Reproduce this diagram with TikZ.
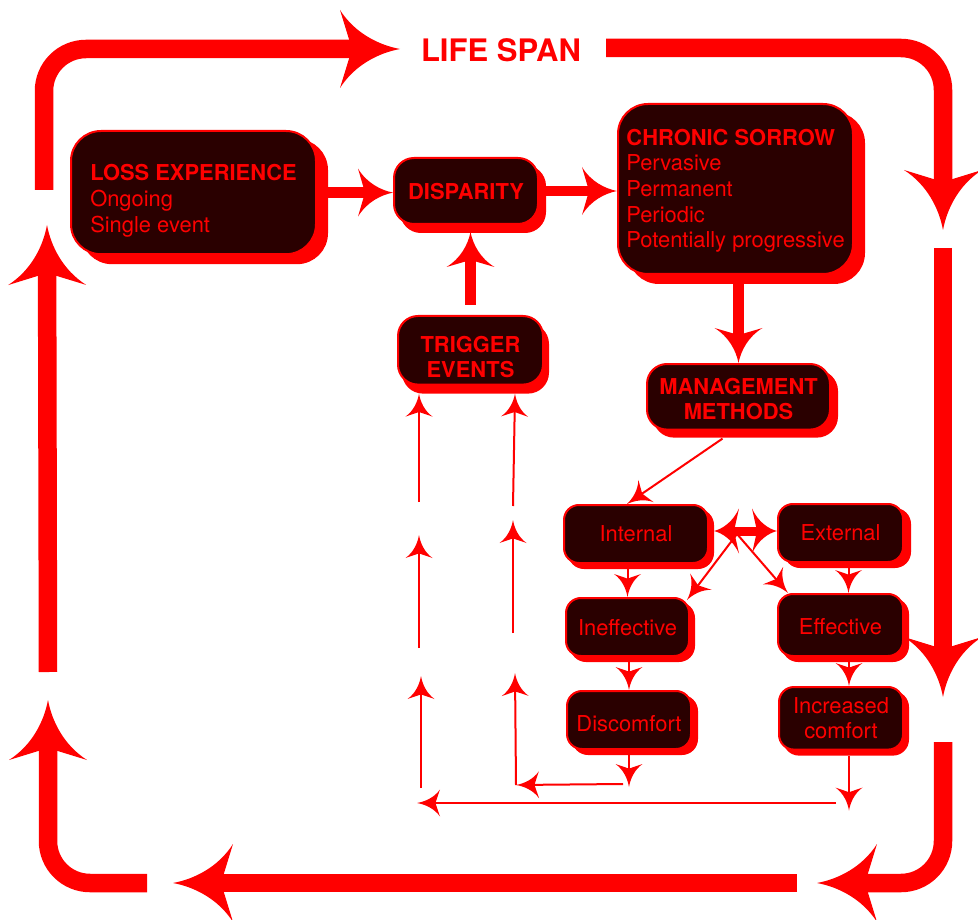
\documentclass[tikz,border=0pt]{standalone}
\usepackage{fontspec}
\setmainfont{TeX Gyre Heros}
\usetikzlibrary{arrows.meta,calc,shadows}
\definecolor{boxfill}{RGB}{42,0,0}
\pgfdeclarearrow{
  name = Swoop,
  parameters = {\the\pgfarrowlength,\the\pgfarrowwidth},
  setup code = {
    \pgfarrowssettipend{0pt}
    \pgfarrowssetbackend{-\pgfarrowlength}
    \pgfarrowssetlineend{-.6\pgfarrowlength}
    \pgfarrowssavethe\pgfarrowlength
    \pgfarrowssavethe\pgfarrowwidth
  },
  drawing code = {
    \pgfpathmoveto{\pgfpointorigin}
    \pgfpathcurveto{\pgfpoint{-.35\pgfarrowlength}{.05\pgfarrowwidth}}{\pgfpoint{-.75\pgfarrowlength}{.2\pgfarrowwidth}}{\pgfpoint{-\pgfarrowlength}{.5\pgfarrowwidth}}
    \pgfpathlineto{\pgfpoint{-.8\pgfarrowlength}{0pt}}
    \pgfpathlineto{\pgfpoint{-\pgfarrowlength}{-.5\pgfarrowwidth}}
    \pgfpathcurveto{\pgfpoint{-.75\pgfarrowlength}{-.2\pgfarrowwidth}}{\pgfpoint{-.35\pgfarrowlength}{-.05\pgfarrowwidth}}{\pgfpointorigin}
    \pgfpathclose
    \pgfusepathqfill
  },
  defaults = {length=10pt, width=10pt}
}
\begin{document}
\begin{tikzpicture}[x=1pt,y=-1pt,
  nbox/.style={draw=red, line width=2pt, fill=boxfill, text=red, inner sep=0pt, anchor=north west,
    font=\fontsize{21.9}{25.6}\selectfont},
  shad/.style 2 args={general shadow={fill=red, draw=red, line width=2pt, shadow xshift=#1pt, shadow yshift=-#2pt}},
  bigloop/.style={draw=red, line width=18.5pt, rounded corners=42pt, -{Swoop[length=60pt,width=78pt]}},
  medarr/.style={draw=red, line width=10.5pt, -{Swoop[length=35pt,width=48pt]}},
  smallarr/.style={draw=red, line width=2pt, -{Swoop[length=23pt,width=27pt]}},
  dblarr/.style={draw=red, line width=9pt, {Swoop[length=25pt,width=45pt]}-{Swoop[length=25pt,width=45pt]}}
]
\useasboundingbox (0,0) rectangle (978,920);

% title
\node[font=\bfseries\fontsize{31}{37}\selectfont, text=red, anchor=base, inner sep=0pt] (title) at (501,62) {LIFE SPAN};

% boxes
\node[nbox, shad={11}{9}, rounded corners=30pt, minimum width=245pt, minimum height=123pt, align=left] (loss) at (70,130)
  {\rule{0pt}{50pt}\textbf{LOSS EXPERIENCE}\\Ongoing\\Single event\rule[-22pt]{0pt}{22pt}};
\node[nbox, shad={7}{8}, rounded corners=20pt, minimum width=144pt, minimum height=66pt] (disp) at (393,157)
  {\rule{0pt}{42pt}\textbf{DISPARITY}\rule[-24pt]{0pt}{24pt}};
\node[nbox, shad={11}{9}, rounded corners=30pt, minimum width=235pt, minimum height=170pt, align=left] (chron) at (617,103)
  {\rule{0pt}{41pt}\textbf{CHRONIC SORROW}\\Pervasive\\Permanent\\Periodic\\Potentially progressive\rule[-26pt]{0pt}{26pt}};
\node[nbox, shad={5}{8}, rounded corners=20pt, minimum width=145pt, minimum height=68pt, align=center] (trig) at (397,315)
  {\rule{0pt}{36pt}\textbf{TRIGGER}\\\textbf{EVENTS}\rule[-7pt]{0pt}{7pt}};
\node[nbox, shad={7}{7}, rounded corners=20pt, minimum width=183pt, minimum height=65pt, align=center] (mgmt) at (646,363)
  {\rule{0pt}{30pt}\textbf{MANAGEMENT}\\\textbf{METHODS}\rule[-10pt]{0pt}{10pt}};
\node[nbox, shad={5}{5}, rounded corners=15pt, minimum width=144pt, minimum height=58pt] (int) at (563,504)
  {\rule{0pt}{36pt}Internal\rule[-22pt]{0pt}{22pt}};
\node[nbox, shad={7}{5}, rounded corners=15pt, minimum width=125pt, minimum height=58pt] (ext) at (777,503)
  {\rule{0pt}{36pt}External\rule[-22pt]{0pt}{22pt}};
\node[nbox, shad={5}{5}, rounded corners=15pt, minimum width=123pt, minimum height=58pt] (ineff) at (565,597)
  {\rule{0pt}{37pt}Ineffective\rule[-21pt]{0pt}{21pt}};
\node[nbox, shad={5}{5}, rounded corners=15pt, minimum width=125pt, minimum height=62pt] (eff) at (777,593)
  {\rule{0pt}{40pt}Effective\rule[-22pt]{0pt}{22pt}};
\node[nbox, shad={6}{5}, rounded corners=15pt, minimum width=124pt, minimum height=58pt] (disc) at (566,690)
  {\rule{0pt}{40pt}Discomfort\rule[-18pt]{0pt}{18pt}};
\node[nbox, shad={5}{5}, rounded corners=15pt, minimum width=124pt, minimum height=62pt, align=center] (incr) at (778,686)
  {\rule{0pt}{26pt}Increased\\comfort\rule[-11pt]{0pt}{11pt}};

% outer life-span loop
\coordinate (a0) at (44,190);  \coordinate (a1) at (400,49);
\coordinate (b0) at (606,48);  \coordinate (b1) at (943,230);
\coordinate (c0) at (943,248); \coordinate (c1) at (943,697);
\coordinate (d0) at (943,742); \coordinate (d1) at (817,883);
\coordinate (e0) at (797,883); \coordinate (e1) at (173,883);
\coordinate (f0) at (147,883); \coordinate (f1) at (48,700);
\coordinate (g0) at (48,672);  \coordinate (g1) at (47,225);
\draw[bigloop] (a0) |- (a1);
\draw[bigloop] (b0) -| (b1);
\draw[bigloop] (c0) -- (c1);
\draw[bigloop] (d0) |- (d1);
\draw[bigloop] (e0) -- (e1);
\draw[bigloop] (f0) -| (f1);
\draw[bigloop] (g0) -- (g1);

% main flow
\draw[medarr] (loss.east) -- (loss.east -| disp.west);
\draw[medarr] (disp.east) -- (disp.east -| chron.west);
\draw[medarr] ($(trig.north)+(0,-10)$) -- ($(trig.north |- disp.south)+(0,7)$);
\draw[medarr] ($(mgmt.north |- chron.south)+(0,9)$) -- (mgmt.north);
\draw[smallarr] ($(mgmt.south)+(-16,8)$) -- ($(int.north)+(-9,0)$);
\draw[dblarr] ($(int.east)+(5,-3)$) -- ($(ext.west)+(0,-2)$);
\coordinate (hub) at (737,534);
\draw[smallarr] (hub) -- ($(ineff.north east)+(-3,3)$);
\draw[smallarr] (hub) -- ($(eff.north west)+(11,0)$);
\draw[smallarr] ($(ineff.north |- int.south)+(0,5)$) -- (ineff.north);
\draw[smallarr] ($(disc.north |- ineff.south)+(0,5)$) -- (disc.north);
\draw[smallarr] ($(disc.south)+(0,5)$) -- ($(disc.south)+(0,37)$);
\draw[smallarr] ($(eff.north |- ext.south)+(8,5)$) -- ($(eff.north)+(8,0)$);
\draw[smallarr] ($(incr.north |- eff.south)+(8,5)$) -- ($(incr.north)+(8,0)$);
\draw[smallarr] ($(incr.south)+(8,5)$) -- ($(incr.south)+(8,60)$);

% feedback to trigger events (right chain)
\coordinate (r1) at (623,784); \coordinate (r2) at (516,785);
\coordinate (r3) at (515,673); \coordinate (r4) at (513,633);
\coordinate (r5) at (513,520); \coordinate (r6) at (513,506);
\draw[smallarr] (r1) -- (r2);
\draw[smallarr] (r2) -- (r3);
\draw[smallarr] (r4) -- (r5);
\draw[smallarr] (r6) -- ($(trig.south east)+(-29,8)$);

% feedback to trigger events (left chain)
\coordinate (l1) at (836,803); \coordinate (l2) at (417,803);
\coordinate (l3) at (421,788); \coordinate (l4) at (421,676);
\coordinate (l5) at (419,648); \coordinate (l6) at (419,535);
\coordinate (l7) at (419,502);
\draw[smallarr] (l1) -- (l2);
\draw[smallarr] (l3) -- (l4);
\draw[smallarr] (l5) -- (l6);
\draw[smallarr] (l7) -- ($(trig.south west)+(22,8)$);
\end{tikzpicture}
\end{document}
